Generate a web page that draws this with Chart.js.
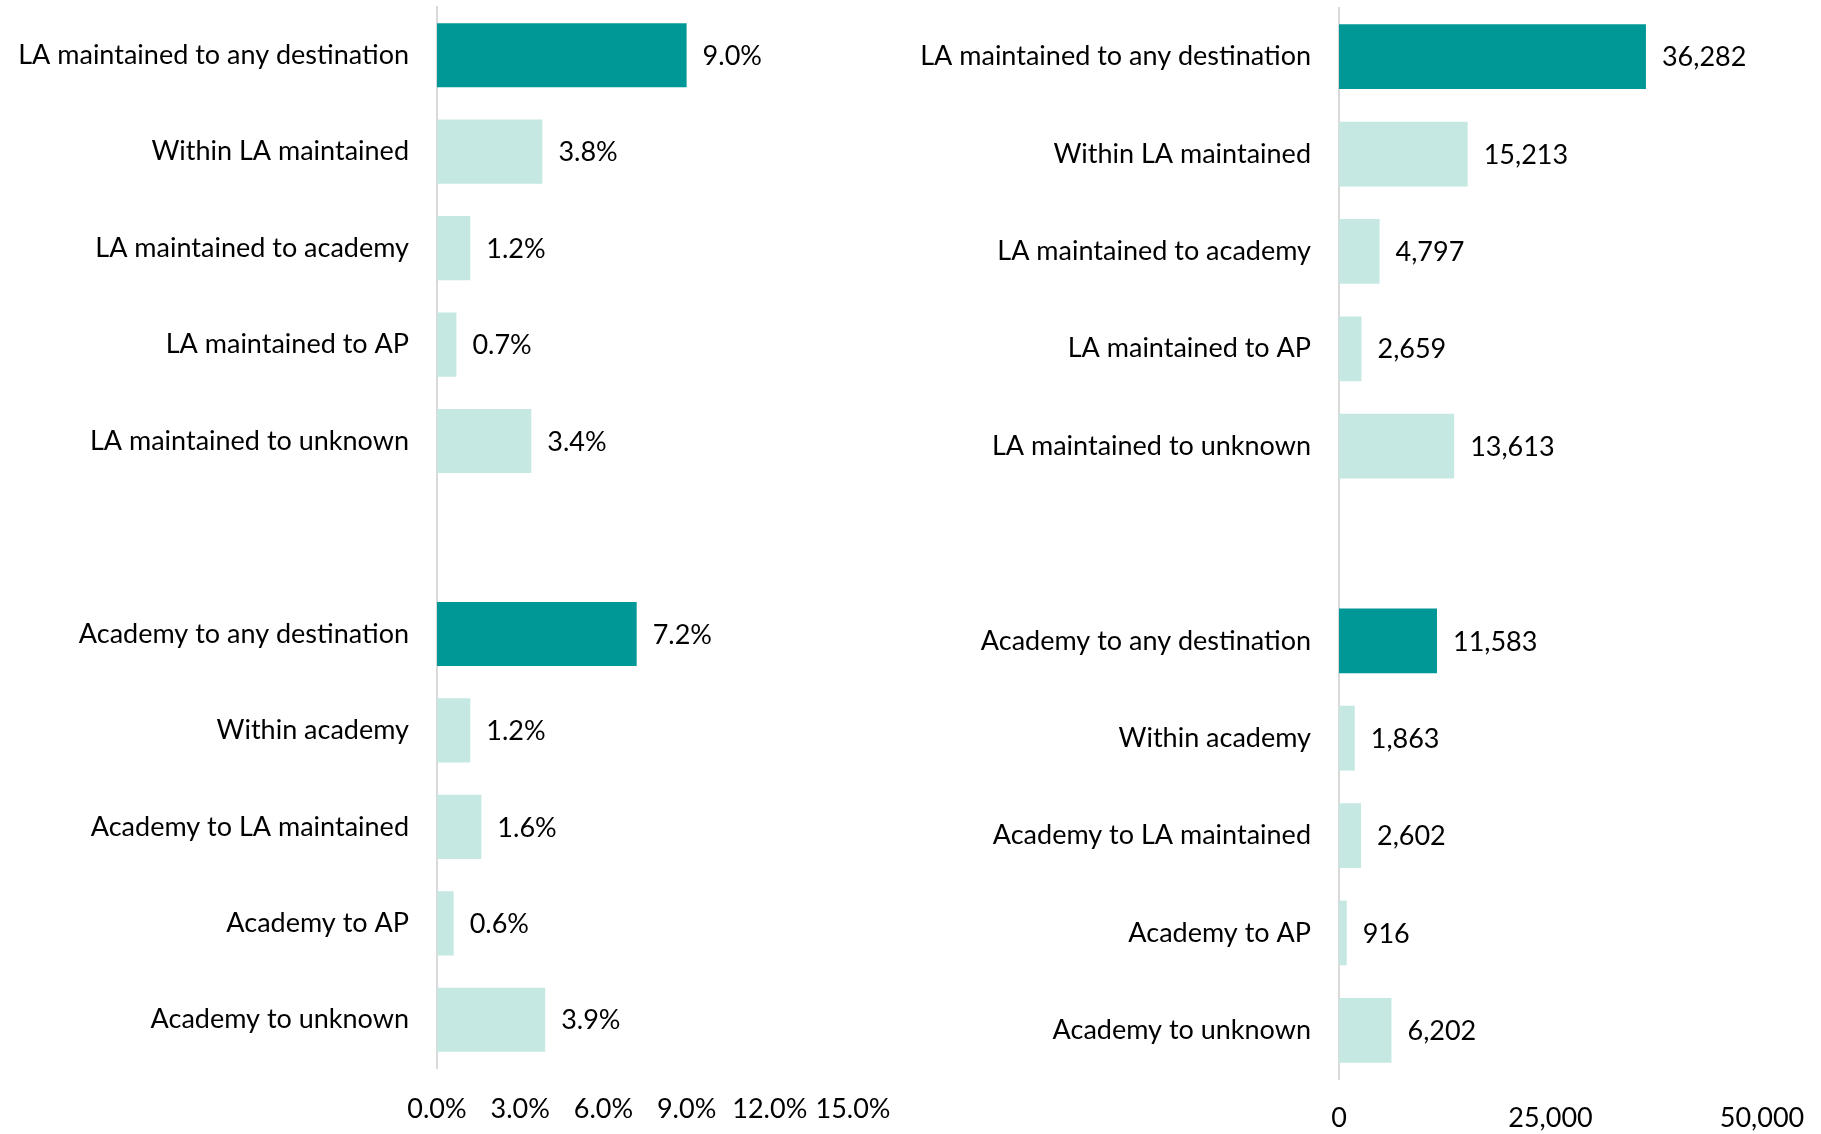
<!DOCTYPE html>
<html>
<head>
<meta charset="utf-8">
<title>Pupil moves by school type</title>
<script src="https://cdn.jsdelivr.net/npm/chart.js@4"></script>
<style>
  html, body { margin: 0; padding: 0; background: #fff; }
  #wrap { position: relative; width: 1821px; height: 1134px; overflow: hidden; }
  #leftChart { position: absolute; left: 0; top: 0; }
  #rightChart { position: absolute; left: 900px; top: 0; }
</style>
</head>
<body>
<div id="wrap">
  <canvas id="leftChart" width="900" height="1134"></canvas>
  <canvas id="rightChart" width="921" height="1134"></canvas>
</div>
<script>
// categories (blank entry is the spacer row between the two groups)
var categories = [
  "LA maintained to any destination",
  "Within LA maintained",
  "LA maintained to academy",
  "LA maintained to AP",
  "LA maintained to unknown",
  "",
  "Academy to any destination",
  "Within academy",
  "Academy to LA maintained",
  "Academy to AP",
  "Academy to unknown"
];

// left panel: rate (%)
var ratePct = [9.0, 3.8, 1.2, 0.7, 3.4, null, 7.2, 1.2, 1.6, 0.6, 3.9];
var rateTicks = [0, 3, 6, 9, 12, 15];

// right panel: number of pupils
var pupilCounts = [36282, 15213, 4797, 2659, 13613, null, 11583, 1863, 2602, 916, 6202];
var countTicks = [0, 25000, 50000];

// "any destination" rows are highlighted
var totalRows = [0, 6];

var DARK = "#009896";
var LIGHT = "#c5e8e2";
var AXIS_GREY = "#d9d9d9";
var FONT = "Lato, 'Open Sans', sans-serif";
var FONT_SIZE = 27;
var LABEL_H = 32;

Chart.defaults.font.family = FONT;
Chart.defaults.font.size = FONT_SIZE;
Chart.defaults.color = "#000";

function barColours(values) {
  return values.map(function (v, i) {
    return totalRows.indexOf(i) >= 0 ? DARK : LIGHT;
  });
}

// draws the value just past the end of each bar
function valueLabels(format) {
  return {
    id: "valueLabels",
    afterDatasetsDraw: function (chart) {
      var ctx = chart.ctx;
      var values = chart.data.datasets[0].data;
      var meta = chart.getDatasetMeta(0);
      ctx.save();
      ctx.font = FONT_SIZE + "px " + FONT;
      ctx.fillStyle = "#000";
      ctx.textAlign = "left";
      ctx.textBaseline = "middle";
      meta.data.forEach(function (bar, i) {
        if (values[i] == null) return;
        ctx.fillText(format(values[i]), bar.x + 16, bar.y + 1);
      });
      ctx.restore();
    }
  };
}

function yAxis(width) {
  return {
    type: "category",
    grid: { display: false, drawTicks: false },
    border: { display: true, color: AXIS_GREY, width: 2 },
    ticks: { padding: 28, autoSkip: false },
    afterFit: function (scale) {
      scale.width = width;
      // keep the bars running to the very top and bottom of the plot
      scale.paddingTop = 0;
      scale.paddingBottom = 0;
    }
  };
}

function xAxis(tickValues, gap, format) {
  return {
    type: "linear",
    position: "bottom",
    min: tickValues[0],
    max: tickValues[tickValues.length - 1],
    grid: { display: false, drawTicks: false },
    border: { display: false },
    afterBuildTicks: function (scale) {
      scale.ticks = tickValues.map(function (v) { return { value: v }; });
    },
    afterFit: function (scale) {
      scale.height = gap + LABEL_H;
      // plot width is set by layout padding, not by the end labels
      scale.paddingLeft = 0;
      scale.paddingRight = 0;
    },
    ticks: {
      padding: gap,
      autoSkip: false,
      maxRotation: 0,
      callback: function (v) { return format(Number(v)); }
    }
  };
}

function makeChart(id, values, opts) {
  return new Chart(document.getElementById(id), {
    type: "bar",
    data: {
      labels: categories,
      datasets: [{
        data: values,
        backgroundColor: barColours(values),
        borderWidth: 0,
        categoryPercentage: 1,
        barPercentage: 0.665
      }]
    },
    options: {
      indexAxis: "y",
      responsive: false,
      animation: false,
      layout: { padding: opts.padding },
      plugins: { legend: { display: false }, tooltip: { enabled: false } },
      scales: { y: yAxis(opts.yWidth), x: opts.xAxis }
    },
    plugins: [valueLabels(opts.format)]
  });
}

function pct(v) { return v.toFixed(1) + "%"; }
function num(v) { return v.toLocaleString("en-GB"); }

makeChart("leftChart", ratePct, {
  yWidth: 437,
  padding: { left: 0, right: 47, top: 7, bottom: 9 },
  format: pct,
  xAxis: xAxis(rateTicks, 25, pct)
});

makeChart("rightChart", pupilCounts, {
  yWidth: 439,
  padding: { left: 0, right: 59, top: 8, bottom: 0 },
  format: num,
  xAxis: xAxis(countTicks, 23, num)
});
</script>
</body>
</html>
